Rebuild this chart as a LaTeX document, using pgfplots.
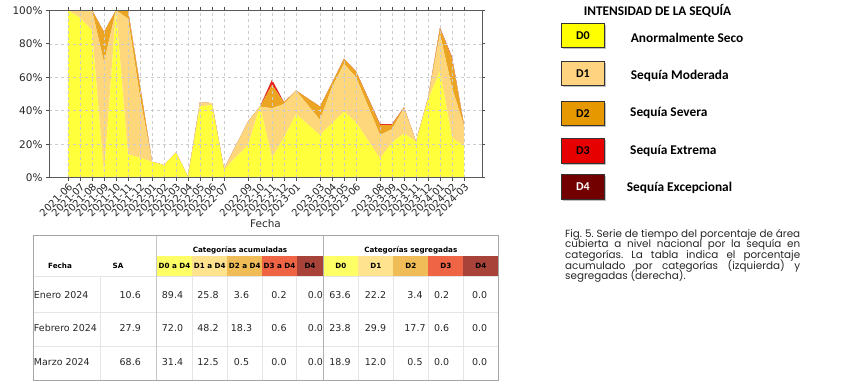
\documentclass[border=0pt]{standalone}
\usepackage{pgfplots}
\usepackage{pgfplotstable}
\pgfplotsset{compat=1.18}
\usepackage{fontspec}
\setmainfont{DejaVu Sans}
\newfontfamily\legfont{Carlito}
\newfontfamily\capfont{Poppins}
\definecolor{aD0}{HTML}{FFFF3C}
\definecolor{aD1}{HTML}{FED67C}
\definecolor{aD2}{HTML}{EBA523}
\definecolor{aD3}{HTML}{E6261E}
\definecolor{aD4}{HTML}{730000}
\definecolor{lD0}{HTML}{FFFF00}
\definecolor{lD1}{HTML}{FFD37F}
\definecolor{lD2}{HTML}{E69800}
\definecolor{lD3}{HTML}{E60000}
\definecolor{lD4}{HTML}{730000}
\definecolor{tD0}{HTML}{FFFF66}
\definecolor{tD1}{HTML}{FFE38F}
\definecolor{tD2}{HTML}{F0BC57}
\definecolor{tD3}{HTML}{EE6445}
\definecolor{tD4}{HTML}{A8433A}

\pgfplotstableread{
x D0 D1 D2 D3 D4
0 100 0 0 0 0
1 95.5 4.5 0 0 0
2 88 12 0 0 0
3 2 67 18 0 0
4 100 0 0 0 0
5 14 81 5 0 0
6 12 36 7 0 0
7 9.5 0 0 0 0
8 7.5 0 0 0 0
9 15 0 0 0 0
10 0.5 0 0 0 0
11 42.5 2.5 0 0 0
12 43.5 1 0 0 0
13 5 0 0 0 0
15 19.5 14 0 0 0
16 42.5 0 0 0 0
17 12 29.5 14 3 0
18 24 20 1 0 0
19 38 14 0 0 0
21 25.5 9 8 0 0
22 32.5 21.5 2.5 0 0
23 39.5 28.5 3 0 0
24 33 27 3.5 0 0
26 11.5 14 6 0.5 0
27 21 8 2.5 0.5 0
28 26.5 15 0.5 0 0
29 21.5 0 0 0 0
30 46.5 1 0 0 0
31 63.6 22.2 3.4 0.2 0
32 23.8 29.9 17.7 0.6 0
33 18.9 12.0 0.5 0 0
}\drought

\begin{document}
\frenchspacing
\begin{tikzpicture}[x=1bp,y=1bp]
\path[use as bounding box] (0,0) rectangle (852,381);

\begin{axis}[
  at={(49bp,203.3bp)}, anchor=south west,
  scale only axis, width=433bp, height=167.4bp,
  xmin=-1.583, xmax=34.5, ymin=0, ymax=100,
  stack plots=y,
  xtick={0,1,2,3,4,5,6,7,8,9,10,11,12,13,15,16,17,18,19,21,22,23,24,26,27,28,29,30,31,32,33},
  xticklabels={2021-06,2021-07,2021-08,2021-09,2021-10,2021-11,2021-12,2022-01,2022-02,2022-03,2022-04,2022-05,2022-06,2022-07,2022-09,2022-10,2022-11,2022-12,2023-01,2023-03,2023-04,2023-05,2023-06,2023-08,2023-09,2023-10,2023-11,2023-12,2024-01,2024-02,2024-03},
  ytick={0,20,40,60,80,100},
  yticklabels={0\%,20\%,40\%,60\%,80\%,100\%},
  xticklabel style={rotate=45, anchor=north east, font=\fontsize{10}{10}\selectfont, inner sep=1bp, text=black!85},
  yticklabel style={font=\fontsize{10.5}{10.5}\selectfont, text=black!85},
  grid=major, grid style={dashed, gray!40, line width=0.5bp},
  axis line style={black!65, line width=0.8bp},
  tick align=outside, major tick length=3bp,
  tick style={black!70, line width=0.6bp},
  axis on top,
]
\addplot[fill=aD0, draw=none] table[x=x,y=D0] {\drought} \closedcycle;
\addplot[fill=aD1, draw=none] table[x=x,y=D1] {\drought} \closedcycle;
\addplot[fill=aD2, draw=none] table[x=x,y=D2] {\drought} \closedcycle;
\addplot[fill=aD3, draw=none] table[x=x,y=D3] {\drought} \closedcycle;
\addplot[fill=aD4, draw=none] table[x=x,y=D4] {\drought} \closedcycle;
\end{axis}

\node[font=\fontsize{10.5}{10.5}\selectfont, text=black!85] at (265.5,157) {Fecha};

% Legend
\node[font=\legfont\bfseries\fontsize{13.3}{13.3}\selectfont] at (657.5,370) {INTENSIDAD DE LA SEQUÍA};
\foreach \yt/\yb/\c/\t/\tc in {357.7/333.3/lD0/D0/black, 320/295.7/lD1/D1/black, 280/255.7/lD2/D2/black, 242.3/217.7/lD3/D3/black, 207/182/lD4/D4/white}{
  \fill[gray!50] (563.2,\yt-1.5) rectangle (605.5,\yb-1.5);
  \draw[fill=\c, draw=black!80, line width=0.7bp] (561.7,\yt) rectangle (604,\yb);
  \node[font=\legfont\bfseries\fontsize{12}{12}\selectfont, text=\tc] at (582.8,{(\yt+\yb)/2}) {\t};
}
\begin{scope}[every node/.style={anchor=west, inner sep=0pt, font=\legfont\bfseries\fontsize{13.4}{13.4}\selectfont}]
\node at (630.7,343.3) {Anormalmente Seco};
\node at (630.7,305) {Sequía Moderada};
\node at (630,268) {Sequía Severa};
\node at (630,230) {Sequía Extrema};
\node at (626.7,193) {Sequía Excepcional};
\end{scope}

% Caption
\begin{scope}[every node/.style={anchor=base west, inner sep=0pt, font=\capfont\fontsize{10.4}{10.4}\selectfont, text=black!85}]
\node at (565,{381-237}) {\makebox[235bp][s]{Fig. 5. Serie de tiempo del porcentaje de área}};
\node at (565,{381-247.7}) {\makebox[235bp][s]{cubierta a nivel nacional por la sequía en}};
\node at (565,{381-258.4}) {\makebox[235bp][s]{categorías. La tabla indica el porcentaje}};
\node at (565,{381-269}) {\makebox[235bp][s]{acumulado por categorías (izquierda) y}};
\node at (565,{381-279.7}) {segregadas (derecha).};
\end{scope}

% Table
\foreach \xa/\xb/\c in {156.7/192.3/tD0, 192.3/227.3/tD1, 227.3/262.3/tD2, 262.3/296.7/tD3, 296.7/323.3/tD4, 323.3/358.3/tD0, 358.3/393.3/tD1, 393.3/428.3/tD2, 428.3/463.3/tD3, 463.3/498.3/tD4}{
  \fill[\c] (\xa,125.3) rectangle (\xb,104.3);
}
\foreach \yy in {104.3,68.7,34.3}{
  \draw[gray!20, line width=0.5bp] (33,\yy) -- (498,\yy);
}
\foreach \xx in {100,192.3,227.3,262.3,296.7,358.3,393.3,428.3,463.3}{
  \draw[gray!20, line width=0.5bp] (\xx,104.3) -- (\xx,1);
}
\draw[gray!45, line width=0.6bp] (156.7,146) -- (156.7,1);
\draw[gray!60, line width=0.7bp] (323.3,146) -- (323.3,1);
\draw[gray!70, line width=0.8bp] (33,146) rectangle (498,1);

\begin{scope}[every node/.style={inner sep=0pt, font=\bfseries\fontsize{7.2}{7.2}\selectfont}]
\node at (240,131) {Categorías acumuladas};
\node at (410.8,131) {Categorías segregadas};
\node at (60,115) {Fecha};
\node at (118,115) {SA};
\node at (174.5,115) {D0 a D4};
\node at (209.8,115) {D1 a D4};
\node at (244.8,115) {D2 a D4};
\node at (279.5,115) {D3 a D4};
\node at (310,115) {D4};
\node at (340.8,115) {D0};
\node at (375.8,115) {D1};
\node at (410.8,115) {D2};
\node at (445.8,115) {D3};
\node at (480.8,115) {D4};
\end{scope}

\begin{scope}[every node/.style={inner sep=0pt, font=\fontsize{9.5}{9.5}\selectfont, text=black!85}]
\foreach \yy/\f/\sa/\a/\b/\cc/\d/\e/\g/\h/\i/\j/\k in {
  86/Enero 2024/10.6/89.4/25.8/3.6/0.2/0.0/63.6/22.2/3.4/0.2/0.0,
  52.7/Febrero 2024/27.9/72.0/48.2/18.3/0.6/0.0/23.8/29.9/17.7/0.6/0.0,
  18.7/Marzo 2024/68.6/31.4/12.5/0.5/0.0/0.0/18.9/12.0/0.5/0.0/0.0}{
  \node[anchor=west] at (33.8,\yy) {\f};
  \node[anchor=east] at (141,\yy) {\sa};
  \node at (172.5,\yy) {\a};
  \node at (208,\yy) {\b};
  \node at (241.5,\yy) {\cc};
  \node at (279,\yy) {\d};
  \node at (315.3,\yy) {\e};
  \node at (340,\yy) {\g};
  \node at (375.5,\yy) {\h};
  \node at (415,\yy) {\i};
  \node at (441.7,\yy) {\j};
  \node at (479.7,\yy) {\k};
}
\end{scope}
\end{tikzpicture}
\end{document}
